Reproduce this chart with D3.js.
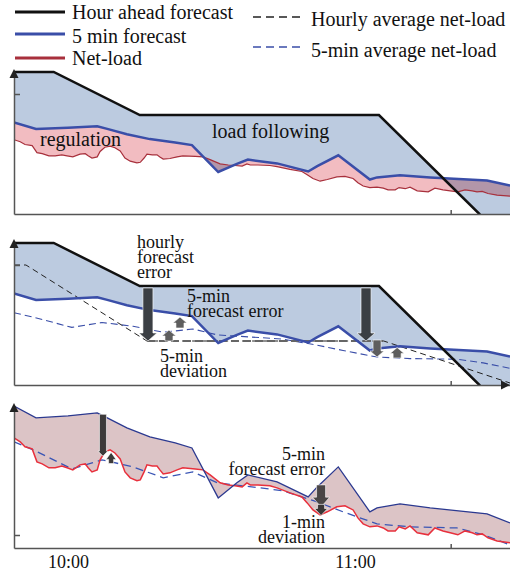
<!DOCTYPE html>
<html>
<head>
<meta charset="utf-8">
<script src="https://cdn.jsdelivr.net/npm/d3@7"></script>
<style>
  body { margin: 0; background: #fff; }
  text { font-family: "Liberation Serif", "Times New Roman", serif; fill: #111; }
  .axis path, .axis line { stroke: #555; stroke-width: 1.5; }
  .axis .tick text { font-size: 18px; }
</style>
</head>
<body>
<svg width="510" height="573"></svg>
<script>
// minutes after 10:00 , load (arbitrary units)
var hourAhead = [[-11.3,142],[-3,142],[15,99],[65,99],[86,0],[92.4,-28]];

var fiveMinForecast = [[-11.3,91.5],[-6.7,85.1],[0,86.2],[6.1,87.8],[8.2,85.1],[12.3,79.7],
  [17.1,74.9],[22.4,71.6],[25.9,68.9],[31.4,42],[35.3,50.1],[37.6,54.4],[43.7,50.6],
  [50.2,42.5],[52.1,47.9],[56.5,58.7],[63.1,34.5],[64.6,36.6],[69.4,38.8],[75.7,36.6],
  [87.6,33.4],[92.4,28.5]];

var netLoad = [[-11.3,74.3],[-10,72.2],[-9,69.5],[-7.5,68.4],[-6.5,61.4],[-5.4,60.3],[-4,58.2],
  [-2.7,58.2],[-1.3,59.2],[-0.2,58.2],[1,57.1],[2.5,59.8],[3.6,60.3],[4.2,58.2],[5,56],
  [6.1,57.1],[6.7,62.5],[7.7,66.8],[8.8,67.9],[9.8,66.2],[10.9,63],[11.9,56],[13,52.8],
  [14.4,51.2],[15.1,51.7],[15.9,56],[16.5,59.8],[17.6,59.2],[18.6,59.2],[19.2,57.1],
  [19.9,54.9],[21.3,55.5],[22.8,57.1],[24,58.2],[26.6,57.6],[28.2,57.1],[29.7,54.4],
  [31.8,50.1],[33.5,49],[34.9,48.5],[36.4,47.9],[37.4,50.1],[38.1,49],[39.7,49],[42.2,48.5],
  [43.7,47.4],[46.4,44.7],[48.9,42.5],[50,39.3],[51.2,35.5],[52.7,32.8],[54.2,34.5],
  [56.2,37.2],[57.9,37.7],[59.6,35.5],[60.6,31.2],[61.7,28],[63.1,26.4],[64.6,26.9],
  [65.9,25.8],[66.9,24.2],[68.4,24.2],[69.2,26.4],[70.5,25.3],[71.5,26.9],[73,23.2],
  [75.3,22.1],[76.7,25.8],[78.4,24.2],[79.9,23.2],[81.5,22.1],[83,24.2],[84.5,23.2],
  [85.5,22.1],[86.6,22.6],[87.8,20.5],[89.7,18.8],[92.4,17.8]];

var fiveMinAvg = [[-11.3,72.2],[-7.3,67.9],[0.8,57.6],[7.1,62.5],[13.6,58.7],[19.9,52.8],
  [26.1,56],[31.2,50.1],[40.1,47.4],[45,45.8],[52.1,39.8],[57.5,34.5],[64.6,28],
  [71.5,26.4],[81.3,25.8],[86.8,22.1],[92.4,16.7]];

var hourlyAvg = [[-11.3,120],[-8.8,120],[16.5,44],[66,44],[92.4,2]];
var hourlyAvgFlat = [[16.5,44],[66,44]];

// arrows: [minute, from, to]
var arrows2Big = [[16.7,97,44],[62.3,97,44]];
var arrows2Small = [[21.1,44,55],[23.4,57,68],[64.6,45,28],[68.8,27,37.5]];
var arrows3 = [[7.3,87,64.5],[9.0,60.5,66.5],[52.9,49,37],[52.9,38.5,32.5]];

var timeTicks = [0, 60];
var minorTick = 80;
var yTick12 = 120, yTick3 = 22;

function t(m) { return new Date(new Date(2000,0,1,10,0,0).getTime() + m * 60000); }

var svg = d3.select("svg");
var x = d3.scaleTime().domain([t(-11.3), t(92.4)]).range([14, 510]);

var panels = [
  { y: d3.scaleLinear().domain([0,142]).range([214,72]), base: 214, top: 72 },
  { y: d3.scaleLinear().domain([0,143]).range([385,242]), base: 385, top: 242 },
  { y: d3.scaleLinear().domain([15,91.5]).range([548,406]), base: 548, top: 406 }
];

function line(y) {
  return d3.line().x(function(d) { return x(t(d[0])); }).y(function(d) { return y(d[1]); });
}
function band(a, b, y) {
  var pts = a.map(function(d) { return [x(t(d[0])), y(d[1])]; })
    .concat(b.slice().reverse().map(function(d) { return [x(t(d[0])), y(d[1])]; }));
  return d3.line()(pts) + "Z";
}
function blockArrow(g, a, y, shaftW, headW, headH, color) {
  var cx = x(t(a[0])), y0 = y(a[1]), y1 = y(a[2]);
  var dir = y1 > y0 ? 1 : -1;
  var yh = y1 - dir * headH;
  var pts = [[cx - shaftW/2, y0], [cx + shaftW/2, y0], [cx + shaftW/2, yh], [cx + headW/2, yh],
             [cx, y1], [cx - headW/2, yh], [cx - shaftW/2, yh]];
  g.append("path").attr("d", d3.line()(pts) + "Z").attr("fill", color)
    .attr("stroke", "#fff").attr("stroke-width", 0.6);
}
function axes(g, p, opts) {
  g.append("g").attr("class", "axis").attr("transform", "translate(0," + p.base + ")")
    .call(d3.axisBottom(x).tickValues([t(minorTick)]).tickSize(-4).tickSizeOuter(0).tickFormat(""));
  g.append("g").attr("class", "axis").attr("transform", "translate(14,0)")
    .call(d3.axisLeft(p.y).tickValues([opts.ytick]).tickSize(-6).tickSizeOuter(0).tickFormat(""));
  // arrow on top of the y axis
  var top = p.top;
  g.append("path").attr("d", d3.line()([[14, top - 3], [18.5, top + 6], [9.5, top + 6]]) + "Z")
    .attr("fill", "#222");
  if (opts.xarrow) {
    g.append("path").attr("d", d3.line()([[510, p.base], [501, p.base - 4.5], [501, p.base + 4.5]]) + "Z")
      .attr("fill", "#222");
  }
}

var defs = svg.append("defs");
panels.forEach(function(p, i) {
  defs.append("clipPath").attr("id", "clip" + i).append("rect")
    .attr("x", 14).attr("y", p.top - 12).attr("width", 500).attr("height", p.base - p.top + 12);
});

// ---------- legend ----------
var leg = svg.append("g");
var legLeft = [["Hour ahead forecast", "#111", 12, 19], ["5 min forecast", "#3a4ea8", 34, 43], ["Net-load", "#a8303c", 58, 65]];
leg.selectAll(".ll").data(legLeft).enter().append("line")
  .attr("x1", 15).attr("x2", 65).attr("y1", function(d) { return d[2]; }).attr("y2", function(d) { return d[2]; })
  .attr("stroke", function(d) { return d[1]; }).attr("stroke-width", 3);
leg.selectAll(".lt").data(legLeft).enter().append("text")
  .attr("x", 72).attr("y", function(d) { return d[3]; }).attr("font-size", 20).text(function(d) { return d[0]; });
var legRight = [["Hourly average net-load", "#222", 17, 26], ["5-min average net-load", "#3a4ea8", 47, 57]];
leg.selectAll(".rl").data(legRight).enter().append("line")
  .attr("x1", 253).attr("x2", 303).attr("y1", function(d) { return d[2]; }).attr("y2", function(d) { return d[2]; })
  .attr("stroke", function(d) { return d[1]; }).attr("stroke-width", 1.5).attr("stroke-dasharray", "8,5");
leg.selectAll(".rt").data(legRight).enter().append("text")
  .attr("x", 311).attr("y", function(d) { return d[3]; }).attr("font-size", 20).text(function(d) { return d[0]; });

// ---------- panel 1 ----------
var p1 = panels[0], g1 = svg.append("g");
var c1 = g1.append("g").attr("clip-path", "url(#clip0)");
c1.append("path").attr("d", band(hourAhead, fiveMinForecast, p1.y)).attr("fill", "#bccbe0");
c1.append("path").attr("d", band(fiveMinForecast, netLoad, p1.y)).attr("fill", "#f2bcc1")
  .style("mix-blend-mode", "multiply");
axes(g1, p1, { ytick: yTick12 });
c1.append("path").attr("d", line(p1.y)(netLoad)).attr("fill", "none").attr("stroke", "#a8303c").attr("stroke-width", 1.2);
c1.append("path").attr("d", line(p1.y)(fiveMinForecast)).attr("fill", "none").attr("stroke", "#3a4ea8").attr("stroke-width", 2.5);
c1.append("path").attr("d", line(p1.y)(hourAhead)).attr("fill", "none").attr("stroke", "#111").attr("stroke-width", 2.5);
g1.append("text").attr("x", 40).attr("y", 146).attr("font-size", 20).text("regulation");
g1.append("text").attr("x", 212).attr("y", 138).attr("font-size", 20).text("load following");

// ---------- panel 2 ----------
var p2 = panels[1], g2 = svg.append("g");
var c2 = g2.append("g").attr("clip-path", "url(#clip1)");
c2.append("path").attr("d", band(hourAhead, fiveMinForecast, p2.y)).attr("fill", "#bccbe0");
axes(g2, p2, { ytick: yTick12, xarrow: true });
c2.append("path").attr("d", line(p2.y)(fiveMinAvg)).attr("fill", "none").attr("stroke", "#3a4ea8")
  .attr("stroke-width", 1.1).attr("stroke-dasharray", "7,4");
c2.append("path").attr("d", line(p2.y)(hourlyAvg)).attr("fill", "none").attr("stroke", "#222")
  .attr("stroke-width", 1).attr("stroke-dasharray", "6,4");
c2.append("path").attr("d", line(p2.y)(hourlyAvgFlat)).attr("fill", "none").attr("stroke", "#666")
  .attr("stroke-width", 1.8).attr("stroke-dasharray", "8,4");
c2.append("path").attr("d", line(p2.y)(fiveMinForecast)).attr("fill", "none").attr("stroke", "#3a4ea8").attr("stroke-width", 2.5);
c2.append("path").attr("d", line(p2.y)(hourAhead)).attr("fill", "none").attr("stroke", "#111").attr("stroke-width", 2.5);
arrows2Big.forEach(function(a) { blockArrow(g2, a, p2.y, 10, 18, 8, "#3b3f44"); });
arrows2Small.forEach(function(a) { blockArrow(g2, a, p2.y, 8, 14, 6, "#5e5e5e"); });
var t2 = [["hourly", 137, 248], ["forecast", 137, 263], ["error", 137, 278],
          ["5-min", 187, 302], ["forecast error", 187, 317],
          ["5-min", 160, 362], ["deviation", 160, 377]];
g2.selectAll(".ann").data(t2).enter().append("text")
  .attr("x", function(d) { return d[1]; }).attr("y", function(d) { return d[2]; })
  .attr("font-size", 18).text(function(d) { return d[0]; });

// ---------- panel 3 ----------
var p3 = panels[2], g3 = svg.append("g");
var c3 = g3.append("g").attr("clip-path", "url(#clip2)");
c3.append("path").attr("d", band(fiveMinForecast, netLoad, p3.y)).attr("fill", "#dcc4c6");
axes(g3, p3, { ytick: yTick3 });
g3.append("g").attr("class", "axis").attr("transform", "translate(0," + p3.base + ")")
  .call(d3.axisBottom(x).tickValues(timeTicks.map(t)).tickSize(0).tickPadding(7)
    .tickFormat(d3.timeFormat("%H:%M")))
  .select(".domain").remove();
c3.append("path").attr("d", line(p3.y)(fiveMinAvg)).attr("fill", "none").attr("stroke", "#3a55b5")
  .attr("stroke-width", 1.3).attr("stroke-dasharray", "8,5");
c3.append("path").attr("d", line(p3.y)(netLoad)).attr("fill", "none").attr("stroke", "#e8303c").attr("stroke-width", 1.5);
c3.append("path").attr("d", line(p3.y)(fiveMinForecast)).attr("fill", "none").attr("stroke", "#2b3990").attr("stroke-width", 1.3);
blockArrow(g3, arrows3[0], p3.y, 7, 10, 5, "#3d3a3a");
blockArrow(g3, arrows3[1], p3.y, 5, 10, 7, "#3d3a3a");
blockArrow(g3, arrows3[2], p3.y, 9, 17, 10, "#4a4545");
blockArrow(g3, arrows3[3], p3.y, 7, 13, 7, "#3a3636");
var t3 = [["5-min", 460], ["forecast error", 475], ["1-min", 528], ["deviation", 543]];
g3.selectAll(".ann").data(t3).enter().append("text")
  .attr("x", 325).attr("y", function(d) { return d[1]; }).attr("text-anchor", "end")
  .attr("font-size", 18).text(function(d) { return d[0]; });
</script>
</body>
</html>
